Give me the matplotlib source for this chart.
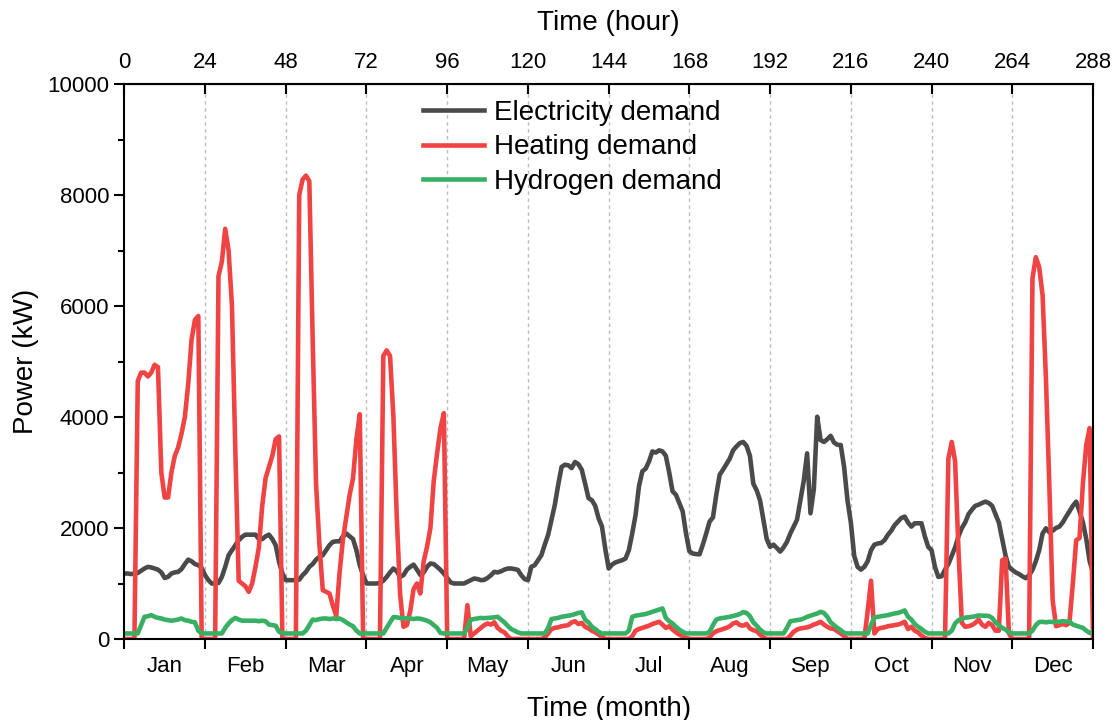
import numpy as np
import matplotlib
matplotlib.use("Agg")
import matplotlib.pyplot as plt

plt.rcParams['font.family'] = ['Liberation Sans', 'DejaVu Sans']

months = ['Jan', 'Feb', 'Mar', 'Apr', 'May', 'Jun',
          'Jul', 'Aug', 'Sep', 'Oct', 'Nov', 'Dec']

# hourly values (kW), one representative day per month, plus hour 288
electricity = (
    [1180, 1180, 1170, 1180, 1190, 1230, 1270, 1300, 1290, 1270, 1250, 1200,
     1100, 1120, 1180, 1200, 1210, 1260, 1350, 1430, 1400, 1350, 1330, 1280] +
    [1150, 1060, 1000, 1000, 1010, 1120, 1300, 1510, 1600, 1690, 1780, 1840,
     1880, 1880, 1880, 1880, 1800, 1800, 1850, 1880, 1800, 1690, 1390, 1180] +
    [1060, 1060, 1060, 1060, 1070, 1150, 1210, 1300, 1350, 1430, 1480, 1510,
     1600, 1690, 1750, 1760, 1760, 1850, 1900, 1850, 1800, 1600, 1330, 1150] +
    [1000, 1000, 1000, 1000, 1010, 1050, 1120, 1200, 1270, 1220, 1120, 1150,
     1250, 1300, 1340, 1250, 1155, 1200, 1300, 1360, 1350, 1300, 1245, 1180] +
    [1100, 1020, 1000, 1000, 1000, 1000, 1030, 1060, 1090, 1080, 1060, 1065,
     1100, 1150, 1210, 1200, 1220, 1250, 1270, 1270, 1260, 1245, 1150, 1080] +
    [1060, 1300, 1330, 1420, 1510, 1700, 1875, 2150, 2420, 2780, 3100, 3140,
     3130, 3080, 3190, 3150, 3050, 2800, 2540, 2500, 2400, 2175, 2030, 1620] +
    [1270, 1340, 1380, 1400, 1420, 1450, 1600, 1900, 2235, 2750, 3020, 3070,
     3200, 3380, 3360, 3400, 3380, 3300, 3000, 2660, 2600, 2450, 2300, 1900] +
    [1580, 1540, 1530, 1525, 1700, 1900, 2115, 2190, 2600, 2960, 3050, 3150,
     3250, 3400, 3470, 3530, 3550, 3480, 3300, 2800, 2680, 2500, 2150, 1800] +
    [1660, 1700, 1640, 1575, 1650, 1750, 1900, 2025, 2150, 2500, 2850, 3345,
     2265, 2700, 4005, 3585, 3550, 3600, 3660, 3540, 3500, 3495, 3100, 2500] +
    [2100, 1500, 1300, 1250, 1300, 1400, 1600, 1700, 1720, 1730, 1780, 1875,
     1950, 2050, 2115, 2180, 2205, 2100, 2025, 2085, 2085, 2085, 1850, 1660] +
    [1600, 1300, 1120, 1130, 1250, 1350, 1500, 1650, 1850, 2000, 2100, 2250,
     2330, 2400, 2420, 2450, 2475, 2450, 2400, 2250, 2100, 1800, 1500, 1300] +
    [1245, 1200, 1170, 1130, 1095, 1150, 1245, 1400, 1600, 1900, 1995, 1925,
     1950, 2000, 2025, 2100, 2205, 2300, 2400, 2475, 2300, 2100, 1800, 1400] +
    [1200]
)

heating = (
    [0, 0, 0, 0, 4650, 4800, 4800, 4730, 4800, 4940, 4900, 3000,
     2550, 2550, 3000, 3300, 3450, 3700, 4000, 4600, 5400, 5750, 5820, 0] +
    [0, 0, 0, 0, 6540, 6800, 7390, 7000, 6000, 3400, 1050, 1000,
     950, 850, 1000, 1300, 1650, 2400, 2900, 3100, 3300, 3600, 3650, 0] +
    [0, 0, 0, 0, 8000, 8280, 8350, 8250, 5400, 2800, 1700, 880,
     850, 820, 600, 420, 1200, 1800, 2200, 2600, 2900, 3600, 4050, 0] +
    [0, 0, 0, 0, 0, 5100, 5200, 5100, 4000, 2200, 800, 220,
     250, 500, 900, 1000, 820, 1400, 1660, 2000, 2850, 3350, 3800, 4070] +
    [0, 0, 0, 0, 0, 0, 610, 50, 100, 150, 200, 250,
     280, 260, 300, 200, 150, 120, 50, 0, 0, 0, 0, 0] +
    [0, 0, 0, 0, 0, 30, 100, 180, 200, 210, 230, 240,
     250, 300, 320, 270, 290, 220, 190, 150, 120, 80, 40, 0] +
    [0, 0, 0, 0, 0, 0, 0, 50, 150, 180, 200, 220,
     240, 270, 290, 310, 260, 200, 230, 170, 120, 80, 50, 20] +
    [0, 0, 0, 0, 0, 0, 30, 100, 140, 160, 180, 200,
     230, 280, 300, 250, 240, 270, 190, 160, 140, 80, 30, 0] +
    [0, 0, 0, 0, 0, 0, 60, 130, 170, 190, 200, 210,
     230, 260, 280, 310, 260, 220, 190, 180, 140, 100, 50, 0] +
    [0, 0, 0, 0, 0, 500, 1050, 100, 180, 200, 210, 230,
     240, 250, 260, 280, 310, 180, 220, 150, 120, 60, 20, 0] +
    [0, 0, 0, 0, 0, 3250, 3550, 3200, 1600, 290, 220, 230,
     250, 290, 350, 260, 220, 290, 250, 150, 150, 1420, 1450, 100] +
    [0, 0, 0, 0, 0, 0, 6500, 6880, 6700, 6200, 4700, 2800,
     700, 230, 250, 270, 250, 290, 1000, 1780, 1820, 2800, 3500, 3800] +
    [0]
)

hydrogen = (
    [100, 100, 100, 100, 100, 250, 400, 410, 430, 400, 380, 370,
     350, 340, 330, 340, 350, 370, 340, 330, 310, 300, 150, 100] +
    [100, 100, 100, 100, 100, 100, 200, 280, 340, 380, 350, 330,
     330, 330, 330, 330, 320, 330, 320, 260, 250, 240, 130, 100] +
    [100, 100, 100, 100, 100, 100, 150, 250, 350, 340, 360, 368,
     370, 360, 370, 360, 370, 340, 300, 260, 230, 150, 100, 100] +
    [100, 100, 100, 100, 100, 100, 200, 300, 396, 390, 380, 370,
     375, 370, 360, 370, 365, 350, 330, 300, 250, 200, 110, 100] +
    [100, 100, 100, 100, 100, 100, 200, 350, 360, 370, 380, 375,
     380, 385, 390, 400, 350, 300, 236, 180, 150, 120, 100, 100] +
    [100, 100, 100, 100, 100, 100, 200, 360, 370, 380, 400, 410,
     420, 430, 450, 470, 480, 350, 300, 220, 180, 130, 100, 100] +
    [100, 100, 100, 100, 100, 100, 150, 400, 420, 430, 440, 450,
     470, 490, 510, 530, 550, 380, 320, 280, 220, 170, 130, 100] +
    [100, 100, 100, 100, 100, 100, 130, 250, 350, 370, 380, 390,
     400, 415, 430, 450, 485, 470, 410, 300, 240, 170, 120, 100] +
    [100, 100, 100, 100, 100, 200, 320, 330, 340, 350, 370, 400,
     420, 440, 460, 490, 470, 400, 300, 250, 200, 160, 110, 100] +
    [100, 100, 100, 100, 100, 100, 250, 385, 400, 410, 420, 430,
     445, 460, 470, 490, 515, 400, 350, 270, 220, 180, 130, 100] +
    [100, 100, 100, 100, 100, 100, 150, 280, 340, 360, 385, 390,
     400, 410, 425, 420, 420, 415, 380, 300, 250, 200, 170, 120] +
    [100, 100, 100, 100, 100, 100, 150, 250, 305, 310, 300, 310,
     305, 310, 310, 320, 315, 315, 260, 240, 220, 200, 150, 110] +
    [100]
)

hours = np.arange(len(electricity))

fig = plt.figure(figsize=(11.16, 7.2), dpi=100)
ax = fig.add_axes([0.1114, 0.1125, 0.868, 0.7708])

ax.plot(hours, electricity, color='#4a4a4a', lw=3.3, label='Electricity demand')
ax.plot(hours, heating, color='#f04343', lw=3.3, label='Heating demand')
ax.plot(hours, hydrogen, color='#38b064', lw=3.3, label='Hydrogen demand')

ax.set_xlim(0, 288)
ax.set_ylim(0, 10000)

# bottom axis: month boundaries as ticks, month names centred
bounds = np.arange(0, 289, 24)
ax.set_xticks(bounds)
ax.set_xticklabels([])
ax.set_xticks(bounds[:-1] + 12, minor=True)
ax.set_xticklabels(months, minor=True, fontsize=16)
ax.tick_params(axis='x', which='major', direction='out', length=7, width=1.5)
ax.tick_params(axis='x', which='minor', length=0, pad=12)
for b in bounds[1:-1]:
    ax.axvline(b, color='#bcbcbc', lw=1, ls=(0, (2.5, 2.5)), zorder=0)

ax.set_yticks(np.arange(0, 10001, 2000))
ax.set_yticks(np.arange(1000, 10000, 2000), minor=True)
ax.tick_params(axis='y', which='major', direction='out', length=7, width=1.5,
               labelsize=16, pad=4)
ax.tick_params(axis='y', which='minor', direction='out', length=4, width=1.5)

for s in ax.spines.values():
    s.set_linewidth(1.5)

ax.set_xlabel('Time (month)', fontsize=20, labelpad=14)
ax.set_ylabel('Power (kW)', fontsize=20, labelpad=6)

top = ax.secondary_xaxis('top')
top.set_xticks(bounds)
top.tick_params(direction='in', length=7, width=1.5, labelsize=16, pad=8)
top.set_xlabel('Time (hour)', fontsize=20, labelpad=16)

ax.legend(loc='upper left', bbox_to_anchor=(0.379, 0.861),
          bbox_transform=fig.transFigure, frameon=False, fontsize=20,
          handlelength=2.2, handletextpad=0.35, labelspacing=0.3,
          borderpad=0, borderaxespad=0)

fig.savefig('out.png', dpi=100)
